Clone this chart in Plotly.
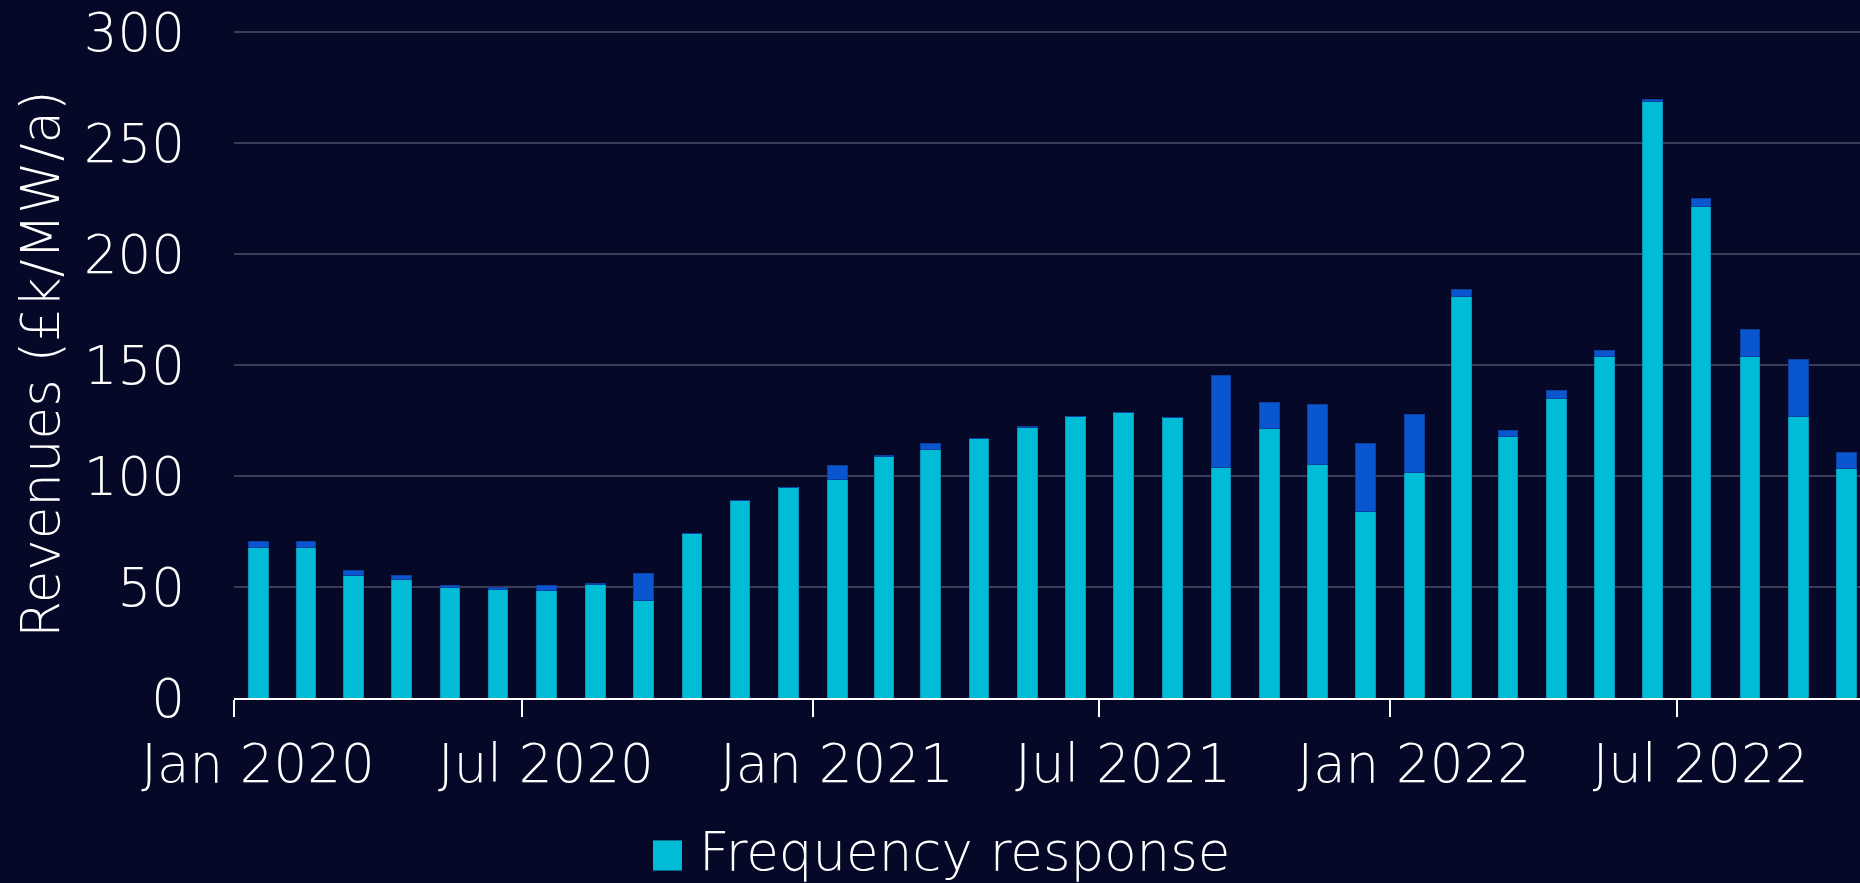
import plotly.graph_objects as go

months = [
    "2020-01", "2020-02", "2020-03", "2020-04", "2020-05", "2020-06",
    "2020-07", "2020-08", "2020-09", "2020-10", "2020-11", "2020-12",
    "2021-01", "2021-02", "2021-03", "2021-04", "2021-05", "2021-06",
    "2021-07", "2021-08", "2021-09", "2021-10", "2021-11", "2021-12",
    "2022-01", "2022-02", "2022-03", "2022-04", "2022-05", "2022-06",
    "2022-07", "2022-08", "2022-09", "2022-10",
]
frequency_response = [
    67.7, 67.7, 55.1, 53.3, 49.7, 48.8, 48.6, 51.2, 44.1, 74.1, 88.9, 94.7,
    98.3, 108.7, 111.9, 116.8, 121.9, 126.7, 128.7, 126.4, 103.7, 121.5, 105.4, 83.8,
    101.5, 180.8, 117.7, 135.1, 153.7, 268.5, 221.6, 153.7, 127.0, 103.2,
]
other_revenue = [
    2.7, 2.7, 2.4, 1.7, 1.2, 1.1, 2.0, 0.2, 12.0, 0.0, 0.0, 0.0,
    6.5, 0.5, 2.8, 0.3, 0.3, 0.0, 0.0, 0.0, 41.5, 11.8, 26.9, 30.9,
    26.1, 3.0, 3.0, 3.2, 2.7, 0.9, 3.2, 12.4, 25.6, 7.5,
]
x_tick_vals = ["2020-01-01", "2020-07-01", "2021-01-01", "2021-07-01", "2022-01-01", "2022-07-01"]
x_tick_text = ["Jan 2020", "Jul 2020", "Jan 2021", "Jul 2021", "Jan 2022", "Jul 2022"]
y_tick_vals = [0, 50, 100, 150, 200, 250, 300]

BG = "#060828"
CYAN = "#00BCD6"
BLUE = "#0A56D0"
FONT = "DejaVu Sans"
FS = 53
DAY_MS = 86400000
bar_width = 12.4 * DAY_MS

fig = go.Figure()
fig.add_trace(go.Bar(
    x=months, y=frequency_response, name="Frequency response",
    xperiod="M1", xperiodalignment="middle", width=bar_width,
    marker=dict(color=CYAN, line=dict(color="#0A93B3", width=1)),
    showlegend=False,
))
fig.add_trace(go.Bar(
    x=months, y=other_revenue, name="Wholesale",
    xperiod="M1", xperiodalignment="middle", width=bar_width,
    marker=dict(color=BLUE, line=dict(color="#0B3FA0", width=1)),
    showlegend=False,
))

tfont = dict(family=FONT, size=FS, color="white", weight=200)

fig.update_layout(
    barmode="stack",
    width=1860, height=883,
    margin=dict(l=234, r=0, t=30, b=185),
    paper_bgcolor=BG, plot_bgcolor=BG,
    font=tfont,
    xaxis=dict(
        type="date",
        range=["2020-01-01", "2022-10-25"],
        tickmode="array", tickvals=x_tick_vals, ticktext=x_tick_text,
        ticks="outside", ticklen=17, tickwidth=2, tickcolor="white",
        showline=True, linecolor="white", linewidth=2,
        showgrid=False, zeroline=False,
        ticklabelshift=24, ticklabelstandoff=1,
        ticklabeloverflow="allow",
        tickfont=tfont,
    ),
    yaxis=dict(
        range=[0, 300.9],
        tickmode="array", tickvals=y_tick_vals,
        showgrid=True, gridcolor="#3B3D58", gridwidth=2,
        zeroline=False, showline=False,
        ticks="", ticklabelstandoff=48,
        ticklabeloverflow="allow",
        tickfont=tfont,
        title=dict(text="Revenues (£k/MW/a)", standoff=7, font=tfont),
    ),
    shapes=[dict(
        type="rect", xref="paper", yref="paper",
        x0=0.2577, x1=0.2755, y0=-0.2583, y1=-0.2132,
        fillcolor=CYAN, line=dict(width=0),
    )],
    annotations=[dict(
        text="Frequency response", xref="paper", yref="paper",
        x=0.2850, y=-0.2300, xanchor="left", yanchor="middle",
        showarrow=False, font=tfont,
    )],
)

fig.write_html(
    "out.html",
    config={"displayModeBar": False},
    post_script="document.body.style.margin='0';document.body.style.overflow='hidden';",
)
